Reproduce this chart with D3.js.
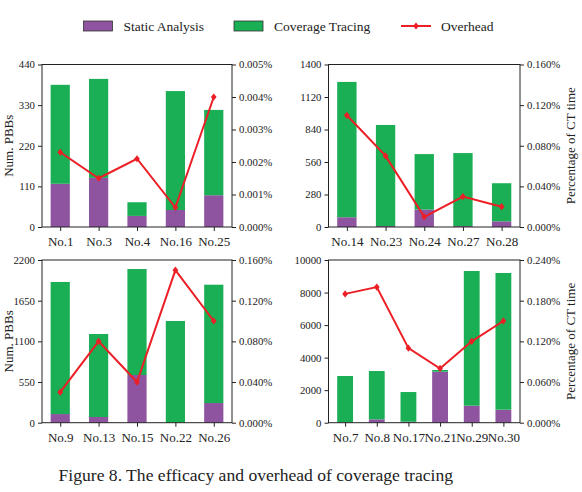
<!DOCTYPE html>
<html>
<head>
<meta charset="utf-8">
<script src="https://cdn.jsdelivr.net/npm/d3@7"></script>
<style>
  html, body { margin: 0; padding: 0; background: #fff; }
  svg { display: block; }
  text { font-family: "Liberation Serif", "Times New Roman", serif; fill: #222; }
</style>
</head>
<body>
<svg id="chart" width="582" height="492"></svg>
<script>
// ---------- DATA ----------
const legendLabels = ["Static Analysis", "Coverage Tracing", "Overhead"];
const captionText = "Figure 8. The efficacy and overhead of coverage tracing";
const leftAxisTitle = "Num. PBBs";
const rightAxisTitle = "Percentage of CT time";

// Panel A (top-left)
const catsA = ["No.1", "No.3", "No.4", "No.16", "No.25"];
const staticA = [117, 133, 30, 46, 86];
const coverageA = [268, 268, 37, 322, 231];
const overheadA = [0.0023, 0.0015, 0.0021, 0.0006, 0.0040];
const yTicksA = [0, 110, 220, 330, 440];
const rTicksA = [0, 0.001, 0.002, 0.003, 0.004, 0.005];

// Panel B (top-right)
const catsB = ["No.14", "No.23", "No.24", "No.27", "No.28"];
const staticB = [84, 8, 150, 8, 49];
const coverageB = [1166, 871, 478, 629, 328];
const overheadB = [0.110, 0.070, 0.010, 0.030, 0.020];
const yTicksB = [0, 280, 560, 840, 1120, 1400];
const rTicksB = [0, 0.04, 0.08, 0.12, 0.16];

// Panel C (bottom-left)
const catsC = ["No.9", "No.13", "No.15", "No.22", "No.26"];
const staticC = [117, 77, 645, 0, 266];
const coverageC = [1786, 1122, 1433, 1375, 1600];
const overheadC = [0.030, 0.080, 0.040, 0.150, 0.100];
const yTicksC = [0, 550, 1100, 1650, 2200];
const rTicksC = [0, 0.04, 0.08, 0.12, 0.16];

// Panel D (bottom-right)
const catsD = ["No.7", "No.8", "No.17", "No.21", "No.29", "No.30"];
const staticD = [20, 205, 60, 3135, 1045, 799];
const coverageD = [2849, 2971, 1825, 103, 8279, 8402];
const overheadD = [0.190, 0.200, 0.110, 0.080, 0.120, 0.150];
const yTicksD = [0, 2000, 4000, 6000, 8000, 10000];
const rTicksD = [0, 0.06, 0.12, 0.18, 0.24];

// ---------- STYLE / LAYOUT ----------
const PURPLE = "#8e54a0", GREEN = "#1aae55", RED = "#ec1f26";
const svg = d3.select("#chart");

const panels = [
  { cats: catsA, st: staticA, cv: coverageA, oh: overheadA, yT: yTicksA, rT: rTicksA,
    x0: 42, x1: 232, y0: 64.5, y1: 227, leftTitle: true, leftTitleX: 8, rightTitle: false },
  { cats: catsB, st: staticB, cv: coverageB, oh: overheadB, yT: yTicksB, rT: rTicksB,
    x0: 328.5, x1: 520, y0: 64.5, y1: 227, leftTitle: false, rightTitle: true },
  { cats: catsC, st: staticC, cv: coverageC, oh: overheadC, yT: yTicksC, rT: rTicksC,
    x0: 42, x1: 232, y0: 260, y1: 422.7, leftTitle: true, leftTitleX: 8, rightTitle: false },
  { cats: catsD, st: staticD, cv: coverageD, oh: overheadD, yT: yTicksD, rT: rTicksD,
    x0: 328.5, x1: 520, y0: 260, y1: 422.7, leftTitle: false, rightTitle: true }
];

const barW = 0.5;
panels.forEach(p => {
  const n = p.cats.length;
  const pad = barW / 2 + 0.05 * (n - 1 + barW);
  const x = d3.scaleLinear().domain([-pad, n - 1 + pad]).range([p.x0, p.x1]);
  const y = d3.scaleLinear().domain([p.yT[0], p.yT[p.yT.length - 1]]).range([p.y1, p.y0]);
  const r = d3.scaleLinear().domain([p.rT[0], p.rT[p.rT.length - 1]]).range([p.y1, p.y0]);
  const g = svg.append("g");
  const idx = d3.range(n);

  // static analysis bars (bottom)
  g.selectAll(".st").data(idx).join("rect")
    .attr("x", i => x(i - barW / 2)).attr("width", i => x(i + barW / 2) - x(i - barW / 2))
    .attr("y", i => y(p.st[i])).attr("height", i => y(0) - y(p.st[i]))
    .attr("fill", PURPLE);
  // coverage tracing bars stacked on top
  g.selectAll(".cv").data(idx).join("rect")
    .attr("x", i => x(i - barW / 2)).attr("width", i => x(i + barW / 2) - x(i - barW / 2))
    .attr("y", i => y(p.st[i] + p.cv[i])).attr("height", i => y(p.st[i]) - y(p.st[i] + p.cv[i]))
    .attr("fill", GREEN);

  // overhead line
  const line = d3.line().x(i => x(i)).y(i => r(p.oh[i]));
  g.append("path").datum(idx).attr("d", line)
    .attr("fill", "none").attr("stroke", RED).attr("stroke-width", 2);
  const dsz = 3.6;
  g.selectAll(".mk").data(idx).join("path")
    .attr("d", i => {
      const cx = x(i), cy = r(p.oh[i]);
      return `M${cx},${cy - dsz}L${cx + dsz * 0.8},${cy}L${cx},${cy + dsz}L${cx - dsz * 0.8},${cy}Z`;
    })
    .attr("fill", RED);

  // axes
  const xAxis = d3.axisBottom(x).tickValues(idx).tickFormat(i => p.cats[i]).tickSize(4).tickPadding(4);
  const gx = g.append("g").attr("transform", `translate(0,${p.y1})`).call(xAxis);
  gx.selectAll("text").style("font-size", "13px").attr("dy", "0.85em");

  const yAxis = d3.axisLeft(y).tickValues(p.yT).tickFormat(d3.format("d")).tickSize(4).tickPadding(3);
  const gy = g.append("g").attr("transform", `translate(${p.x0},0)`).call(yAxis);
  gy.selectAll("text").style("font-size", "10.8px");

  const rAxis = d3.axisRight(r).tickValues(p.rT).tickFormat(d => d.toFixed(3) + "%").tickSize(4).tickPadding(3);
  const gr = g.append("g").attr("transform", `translate(${p.x1},0)`).call(rAxis);
  gr.selectAll("text").style("font-size", "10.8px");

  [gx, gy, gr].forEach(a => {
    a.select(".domain").remove();
    a.selectAll(".tick line").attr("stroke", "#222").attr("stroke-width", 1);
    a.selectAll("text").attr("fill", "#222").style("font-family", '"Liberation Serif", serif');
  });

  // frame
  g.append("rect").attr("x", p.x0).attr("y", p.y0)
    .attr("width", p.x1 - p.x0).attr("height", p.y1 - p.y0)
    .attr("fill", "none").attr("stroke", "#222").attr("stroke-width", 1);

  const cy = (p.y0 + p.y1) / 2;
  if (p.leftTitle) {
    g.append("text").attr("transform", `translate(${p.leftTitleX},${cy}) rotate(-90)`)
      .attr("text-anchor", "middle").attr("dominant-baseline", "central")
      .style("font-size", "13px").text(leftAxisTitle);
  }
  if (p.rightTitle) {
    g.append("text").attr("transform", `translate(570,${cy}) rotate(-90)`)
      .attr("text-anchor", "middle").attr("dominant-baseline", "central")
      .style("font-size", "13px").text(rightAxisTitle);
  }
});

// ---------- LEGEND ----------
const lg = svg.append("g");
lg.append("rect").attr("x", 83.5).attr("y", 21).attr("width", 29).attr("height", 10)
  .attr("fill", PURPLE).attr("stroke", "#333").attr("stroke-width", 0.8);
lg.append("text").attr("x", 123.5).attr("y", 30.5).style("font-size", "13.5px").text(legendLabels[0]);
lg.append("rect").attr("x", 234).attr("y", 21).attr("width", 29).attr("height", 10)
  .attr("fill", GREEN).attr("stroke", "#333").attr("stroke-width", 0.8);
lg.append("text").attr("x", 274).attr("y", 30.5).style("font-size", "13.5px").text(legendLabels[1]);
lg.append("line").attr("x1", 401).attr("x2", 431).attr("y1", 26).attr("y2", 26)
  .attr("stroke", RED).attr("stroke-width", 2);
lg.append("path").attr("d", "M416,22.4L418.9,26L416,29.6L413.1,26Z").attr("fill", RED);
lg.append("text").attr("x", 441).attr("y", 30.5).style("font-size", "13.5px").text(legendLabels[2]);

// ---------- CAPTION ----------
svg.append("text").attr("x", 58.5).attr("y", 481).style("font-size", "17.6px").text(captionText);
</script>
</body>
</html>
